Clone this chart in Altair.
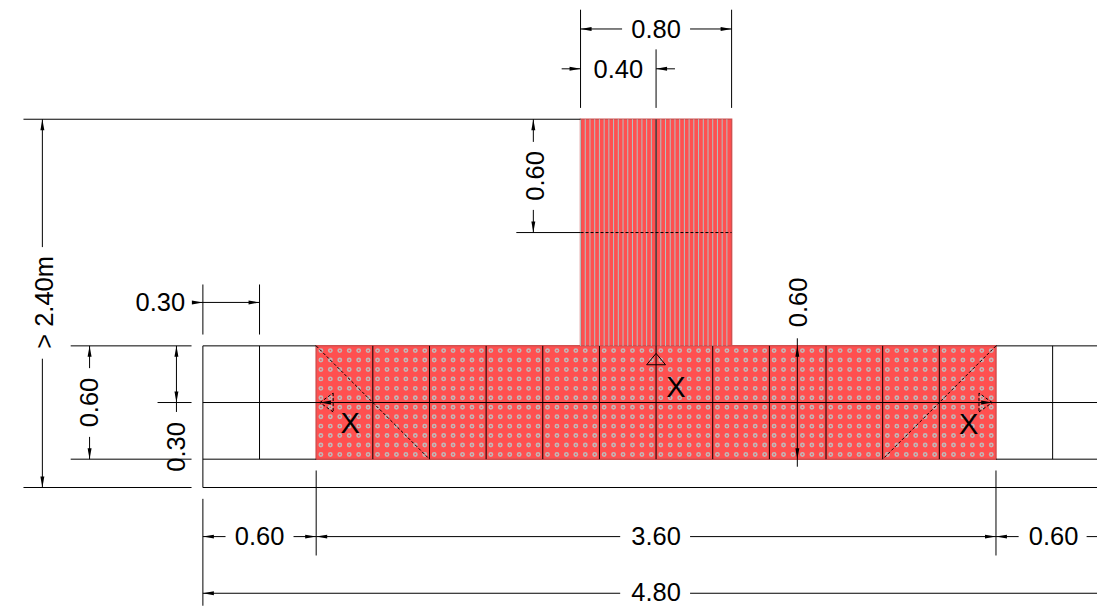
import altair as alt
import pandas as pd

# Drawing coordinates are metres: x from the left face of the slab, y downward from the stem top.
X_MIN, X_MAX = -1.032, 4.735
Y_MIN, Y_MAX = -0.577, 2.576
PLOT_W, PLOT_H = 1090, 596

FILLS = [
    ("stem", 2.0, 2.8, 0.0, 1.2),
    ("slab", 0.6, 4.2, 1.2, 1.8),
]
STEM_HATCH_X = [2.0, 2.025, 2.05, 2.075, 2.1, 2.125, 2.15, 2.175, 2.2, 2.225, 2.25, 2.275, 2.3, 2.325, 2.35, 2.375,
                2.4, 2.425, 2.45, 2.475, 2.5, 2.525, 2.55, 2.575, 2.6, 2.625, 2.65, 2.675, 2.7, 2.725, 2.75, 2.775]
DOT_X = [0.625, 0.675, 0.725, 0.775, 0.825, 0.875, 0.925, 0.975, 1.025, 1.075, 1.125, 1.175,
         1.225, 1.275, 1.325, 1.375, 1.425, 1.475, 1.525, 1.575, 1.625, 1.675, 1.725, 1.775,
         1.825, 1.875, 1.925, 1.975, 2.025, 2.075, 2.125, 2.175, 2.225, 2.275, 2.325, 2.375,
         2.425, 2.475, 2.525, 2.575, 2.625, 2.675, 2.725, 2.775, 2.825, 2.875, 2.925, 2.975,
         3.025, 3.075, 3.125, 3.175, 3.225, 3.275, 3.325, 3.375, 3.425, 3.475, 3.525, 3.575,
         3.625, 3.675, 3.725, 3.775, 3.825, 3.875, 3.925, 3.975, 4.025, 4.075, 4.125, 4.175]
DOT_Y = [1.225, 1.275, 1.325, 1.375, 1.425, 1.475, 1.525, 1.575, 1.625, 1.675, 1.725, 1.775]

# x1, y1, x2, y2
SOLID_LINES = [
    (0.0, 1.2, 0.6, 1.2), (4.2, 1.2, 4.735, 1.2), (0.0, 1.5, 4.735, 1.5), (0.0, 1.8, 0.6, 1.8), (4.2, 1.8, 4.735, 1.8),
    (0.0, 1.95, 4.735, 1.95), (0.0, 1.2, 0.0, 1.95),
    (0.3, 1.2, 0.3, 1.8), (0.9, 1.2, 0.9, 1.8), (1.2, 1.2, 1.2, 1.8), (1.5, 1.2, 1.5, 1.8), (1.8, 1.2, 1.8, 1.8),
    (2.1, 1.2, 2.1, 1.8), (2.4, 0.0, 2.4, 1.8), (2.7, 1.2, 2.7, 1.8), (3.0, 1.2, 3.0, 1.8), (3.3, 1.2, 3.3, 1.8),
    (3.6, 1.2, 3.6, 1.8), (3.9, 1.2, 3.9, 1.8), (4.5, 1.2, 4.5, 1.8),
    # witness lines
    (-0.95, 0.0, 2.0, 0.0), (1.66, 0.6, 2.0, 0.6), (-0.7, 1.2, -0.06, 1.2), (-0.24, 1.5, -0.06, 1.5),
    (-0.7, 1.8, -0.06, 1.8), (-0.95, 1.95, -0.06, 1.95),
    (2.0, -0.58, 2.0, -0.06), (2.8, -0.58, 2.8, -0.06), (2.4, -0.37, 2.4, -0.06),
    (0.0, 0.875, 0.0, 1.14), (0.3, 0.875, 0.3, 1.14),
    (0.0, 2.01, 0.0, 2.576), (0.6, 1.86, 0.6, 2.31), (4.2, 1.86, 4.2, 2.31),
    # dimension lines
    (2.0, -0.478, 2.22, -0.478), (2.58, -0.478, 2.8, -0.478),
    (1.9, -0.267, 2.0, -0.267), (2.4, -0.267, 2.5, -0.267),
    (1.75, 0.0, 1.75, 0.12), (1.75, 0.48, 1.75, 0.6),
    (-0.85, 0.0, -0.85, 0.677), (-0.85, 1.268, -0.85, 1.95),
    (-0.053, 0.97, 0.3, 0.97),
    (-0.6, 1.2, -0.6, 1.318), (-0.6, 1.682, -0.6, 1.8),
    (-0.14, 1.2, -0.14, 1.55),
    (3.148, 1.16, 3.148, 1.84),
    (0.0, 2.21, 0.12, 2.21), (0.48, 2.21, 0.6, 2.21), (0.6, 2.21, 2.21, 2.21), (2.58, 2.21, 4.2, 2.21),
    (4.2, 2.21, 4.32, 2.21), (4.68, 2.21, 4.735, 2.21),
    (0.0, 2.51, 2.21, 2.51), (2.58, 2.51, 4.735, 2.51),
    # top triangle
    (2.4, 1.24, 2.35, 1.3), (2.35, 1.3, 2.45, 1.3), (2.45, 1.3, 2.4, 1.24),
]
DASHED_LINES = [
    (2.0, 0.6, 2.8, 0.6),
    (0.6, 1.2, 1.2, 1.8), (4.2, 1.2, 3.6, 1.8),
    (0.62, 1.5, 0.69, 1.45), (0.69, 1.45, 0.69, 1.55), (0.69, 1.55, 0.62, 1.5),
    (4.18, 1.5, 4.11, 1.45), (4.11, 1.45, 4.11, 1.55), (4.11, 1.55, 4.18, 1.5),
]
# x, y, pointing direction in degrees clockwise from up
ARROWS = [
    (2.0, -0.478, 270), (2.8, -0.478, 90), (2.0, -0.267, 90), (2.4, -0.267, 270),
    (1.75, 0.0, 0), (1.75, 0.6, 180), (-0.85, 0.0, 0), (-0.85, 1.95, 180),
    (0.0, 0.97, 90), (0.3, 0.97, 90),
    (-0.6, 1.2, 0), (-0.6, 1.8, 180), (-0.14, 1.2, 0), (-0.14, 1.5, 180),
    (3.148, 1.2, 0), (3.148, 1.8, 180),
    (0.0, 2.21, 270), (0.6, 2.21, 90), (0.6, 2.21, 270), (4.2, 2.21, 90), (4.2, 2.21, 270),
    (0.0, 2.51, 270),
    (0.62, 1.5, 270), (4.18, 1.5, 90),
]
# x, y, text, angle
DIM_LABELS = [
    (2.4, -0.473, "0.80", 0), (2.2, -0.262, "0.40", 0), (1.762, 0.3, "0.60", 270),
    (-0.838, 0.97, "> 2.40m", 270), (-0.225, 0.975, "0.30", 0), (-0.6, 1.5, "0.60", 270),
    (-0.137, 1.735, "0.30", 270), (3.155, 0.97, "0.60", 270),
    (0.3, 2.21, "0.60", 0), (2.4, 2.21, "3.60", 0), (4.505, 2.21, "0.60", 0), (2.4, 2.51, "4.80", 0),
]
CUT_LABELS = [(0.78, 1.615, "X"), (2.505, 1.425, "X"), (4.055, 1.62, "X")]

x_scale = alt.Scale(domain=[X_MIN, X_MAX], nice=False, zero=False)
y_scale = alt.Scale(domain=[Y_MIN, Y_MAX], nice=False, zero=False, reverse=True)
X = alt.X("x:Q", scale=x_scale, axis=None)
Y = alt.Y("y:Q", scale=y_scale, axis=None)


def segs(rows):
    return pd.DataFrame(rows, columns=["x", "y", "x2", "y2"])


fills = pd.DataFrame(FILLS, columns=["name", "x", "x2", "y", "y2"])
hatch = pd.DataFrame({"x": STEM_HATCH_X, "y": [0.0] * len(STEM_HATCH_X), "y2": [1.2] * len(STEM_HATCH_X)})
dots = pd.DataFrame([(a, b) for b in DOT_Y for a in DOT_X], columns=["x", "y"])
arrows = pd.DataFrame(ARROWS, columns=["x", "y", "angle"])
dims = pd.DataFrame(DIM_LABELS, columns=["x", "y", "text", "angle"])
cuts = pd.DataFrame(CUT_LABELS, columns=["x", "y", "text"])

red = alt.Chart(fills).mark_rect(color="#ff5050", stroke="#d05050", strokeWidth=1.5).encode(
    x=X, x2="x2:Q", y=Y, y2="y2:Q")
hatch_layer = alt.Chart(hatch).mark_rule(color="#b0c4c4", strokeWidth=1).encode(x=X, y=Y, y2="y2:Q")
dot_layer = alt.Chart(dots).mark_point(filled=False, color="#c0b8b8", size=11, strokeWidth=1.6, opacity=1).encode(x=X, y=Y)
solid = alt.Chart(segs(SOLID_LINES)).mark_rule(color="#000000", strokeWidth=1).encode(x=X, y=Y, x2="x2:Q", y2="y2:Q")
dashed = alt.Chart(segs(DASHED_LINES)).mark_rule(color="#000000", strokeWidth=1, strokeDash=[3, 2]).encode(
    x=X, y=Y, x2="x2:Q", y2="y2:Q")
arrow_layer = alt.Chart(arrows).mark_point(
    filled=True, color="#000000", opacity=1, size=121, shape="M0,0L0.36,2L-0.36,2Z"
).encode(x=X, y=Y, angle=alt.Angle("angle:Q", scale=None))
dim_text = alt.Chart(dims).mark_text(
    font="Liberation Sans", fontSize=25.5, color="#000000", align="center", baseline="middle"
).encode(x=X, y=Y, text="text:N", angle=alt.Angle("angle:Q", scale=None))
cut_text = alt.Chart(cuts).mark_text(
    font="Liberation Sans", fontSize=29, color="#000000", align="center", baseline="middle"
).encode(x=X, y=Y, text="text:N")

chart = alt.layer(red, hatch_layer, dot_layer, solid, dashed, arrow_layer, dim_text, cut_text).properties(
    width=PLOT_W, height=PLOT_H, padding=0, background="#ffffff",
).configure_view(stroke=None)

chart.save("out.html", embed_options={"renderer": "svg", "actions": False})
